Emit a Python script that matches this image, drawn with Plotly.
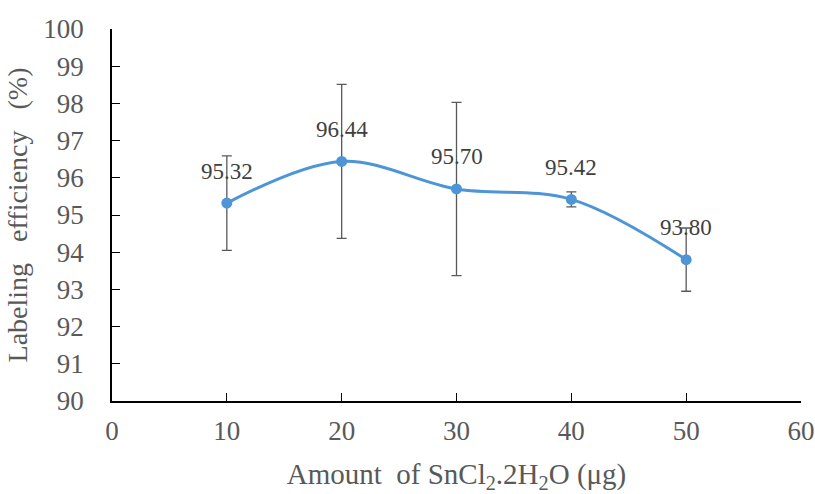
import plotly.graph_objects as go

amount = [10, 20, 30, 40, 50]
efficiency = [95.32, 96.44, 95.70, 95.42, 93.80]
error = [1.27, 2.07, 2.33, 0.20, 0.85]
x_ticks = [0, 10, 20, 30, 40, 50, 60]
y_ticks = [90, 91, 92, 93, 94, 95, 96, 97, 98, 99, 100]

FONT = "Liberation Serif, Times New Roman, serif"
GRAY = "#595959"

fig = go.Figure()
fig.add_trace(go.Scatter(
    x=amount, y=efficiency,
    mode="lines+markers",
    line=dict(shape="spline", smoothing=1.0, color="#4D95D6", width=3),
    marker=dict(size=11, color="#4D95D6"),
    error_y=dict(type="data", array=error, visible=True,
                 color="#595959", thickness=1.3, width=5),
    showlegend=False,
))
for xv, yv in zip(amount, efficiency):
    fig.add_annotation(x=xv, y=yv, text=f"{yv:.2f}", showarrow=False,
                       yshift=32, font=dict(family=FONT, size=23, color="#404040"))

fig.update_layout(
    width=815, height=494,
    margin=dict(l=112, r=14, t=29, b=93),
    paper_bgcolor="white", plot_bgcolor="white",
    font=dict(family=FONT, color=GRAY),
    xaxis=dict(range=[0, 60], tickvals=x_ticks, ticks="inside", ticklen=8,
               tickcolor="black", showline=True, linecolor="black", linewidth=1.5,
               showgrid=False, zeroline=False, automargin=False,
               tickfont=dict(family=FONT, size=27, color=GRAY),
               ticklabelstandoff=5,
               title=dict(text="Amount\u00a0 of SnCl<sub>2</sub>.2H<sub>2</sub>O (μg)",
                          font=dict(family=FONT, size=29, color=GRAY), standoff=36)),
    yaxis=dict(range=[90, 100], tickvals=y_ticks, ticks="inside", ticklen=8,
               tickcolor="black", showline=True, linecolor="black", linewidth=1.5,
               showgrid=False, zeroline=False, automargin=False,
               tickfont=dict(family=FONT, size=27, color=GRAY),
               ticklabelstandoff=21,
               title=dict(text="Labeling\u00a0\u00a0 efficiency\u00a0\u00a0 (%)",
                          font=dict(family=FONT, size=28, color=GRAY), standoff=8)),
)
fig.write_html("out.html")
